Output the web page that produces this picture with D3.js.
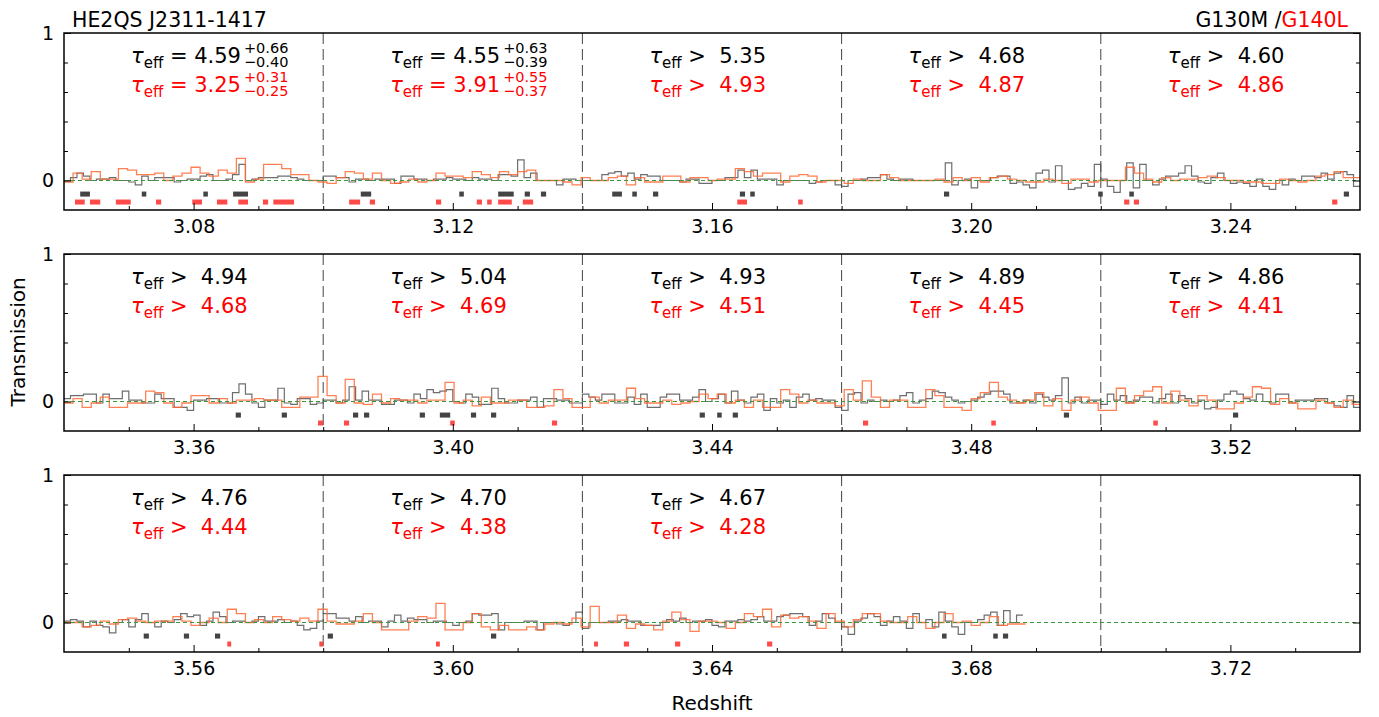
<!DOCTYPE html>
<html><head><meta charset="utf-8">
<script src="https://cdn.jsdelivr.net/npm/d3@7"></script>
<style>body{margin:0;background:#fff} svg{display:block} text{font-family:"DejaVu Sans",sans-serif}</style>
</head><body><svg id="c" width="1379" height="717"></svg>
<script>
// ---------------- DATA ----------------
const panelStarts = [3.06, 3.34, 3.54];
const panelSpan = 0.2;
const segmentWidth = 0.04;
const g130mBin = 0.001;   // redshift width of a G130M bin
const g140lBin = 0.0014;  // redshift width of a G140L bin

// transmission values in percent (x100)
const g130m_p1 = [0,2,5,3,0,1,1,2,0,0, -1,-3,3,0,2,2,2,-1,0,1, 1,3,4,0,0,1,4,11,0,1, 2,2,2,3,3,2,1,0,0,0,
 3,3,2,2,-1,1,1,0,1,1, 1,-2,3,3,1,1,0,1,1,2, 1,1,0,2,1,1,0,4,4,3, 14,2,5,0,0,0,-3,1,1,0,
 0,0,0,4,5,6,3,5,1,4, 3,3,0,0,0,-1,1,1,-2,-2, 0,0,2,2,7,2,7,1,1,1, -3,0,0,0,0,-2,-1,0,0,-3,
 -4,0,0,1,2,2,4,1,0,1, 1,0,0,0,0,0,12,-3,0,1, -5,0,0,2,3,3,-2,-1,-3,-5, 5,7,-1,10,0,-6,-5,-2,-4,11,
 1,-4,-8,0,12,-5,11,0,-3,1, 3,3,5,10,3,-1,-2,2,5,0, -2,-1,-2,-4,1,-4,-6,0,-3,1, 0,3,3,2,5,1,5,6,4,-4];
const g140l_p1 = [-1,5,1,6,1,1,8,7,4,4, 5,0,3,5,9,5,3,7,5,15, -1,1,11,11,8,4,4,0,-1,-2, 2,6,5,1,5,0,-2,-1,1,-1,
 0,5,3,3,2,6,4,2,6,4, 6,7,0,0,0,-1,-3,2,0,0, 2,3,-3,2,-1,-1,3,3,-1,2, 2,0,1,1,8,6,3,5,5,-1,
 3,4,3,-1,0,0,-2,1,0,0, 4,2,0,0,0,0,1,-1,2,0, 2,-1,2,3,1,0,-1,-1,1,0, -2,1,1,-1,0,0,0,9,5,1,
 -1,2,0,1,1,2,3,2,0,0, -1,-1,-2,-2,1,0,-1,0,3,4, 6,2,2];
const g130m_p2 = [2,4,4,5,5,-1,5,2,2,7, 1,1,-1,-1,5,2,2,-4,-4,-6, 1,1,2,2,-1,-1,6,12,5,-1, -4,1,1,9,-1,-2,2,2,-2,-1,
 1,1,-1,1,10,1,7,1,1,-2, -2,1,1,-1,5,2,8,6,7,8, 0,-1,5,3,-2,-2,9,2,-1,-1, 1,1,3,-4,2,2,1,1,-1,-1,
 5,3,1,5,5,-1,-1,3,-2,5, -4,-4,3,5,5,1,1,3,8,0, 2,5,-1,7,1,-1,3,5,-6,2, -1,1,-4,3,5,1,2,1,1,-4,
 -6,5,6,-1,1,0,1,0,1,4, 6,-1,1,2,7,6,3,1,-1,0, 1,3,5,7,7,5,-1,-1,1,-1, 5,3,1,4,16,-1,3,-1,1,1,
 -2,5,1,4,-1,1,3,3,-1,2, 5,-1,4,2,-1,1,-5,-4,1,5, 7,5,2,1,5,0,-1,5,5,-1, 1,1,1,2,2,-1,-3,-4,4,-4];
const g140l_p2 = [-1,2,-4,-1,3,-4,-4,-1,-1,7, 6,-1,-4,-1,4,4,-1,2,-1,1, 1,2,1,1,-4,-4,3,3,17,4, -1,15,-1,-2,5,-1,2,1,1,-1,
 1,1,13,-1,1,-3,3,-1,-1,1, 1,-4,-4,-3,8,2,-4,-4,3,-1, 1,1,9,2,-1,-1,1,-2,-1,0, 5,2,5,-1,1,-4,1,-4,-4,8,
 5,-1,1,-1,-1,-3,8,1,14,3, -4,1,1,-4,-4,8,4,-4,-4,-6, 2,6,13,3,1,-1,1,6,-3,2, -6,1,3,-1,-6,-6,9,-1,4,7,
 10,-1,7,1,-3,4,1,-5,-5,-1, 3,10,9,-2,2,-1,-5,-5,1,-1, -4,1,-2];
const g130m_p3 = [1,2,1,-3,1,-2,-3,-7,0,2, -3,2,6,0,-3,1,0,2,6,4, 5,-2,1,7,4,0,1,1,0,1, 4,1,1,2,0,1,-2,-5,-4,1,
 6,6,3,3,1,4,0,1,1,-3, 1,5,1,3,2,2,0,1,1,0, -2,0,1,6,5,5,6,-5,0,0, 0,1,1,-5,0,0,-1,-2,0,7,
 -4,0,0,0,1,1,2,1,1,-2, -2,-2,0,2,1,3,0,1,1,2, -2,-3,1,1,2,1,2,4,1,1, 4,5,6,6,4,-2,1,6,3,0,
 -3,-8,1,3,6,4,-2,1,4,1, -4,6,0,2,-3,7,1,-3,-8,0, 0,2,5,7,-2,8,0,5];
const g140l_p3 = [0,0,-3,-2,1,-1,2,3,1,0, 1,1,4,1,-2,0,3,0,9,6, 0,2,0,4,2,1,3,1,9,1, -1,-1,1,6,0,-5,-5,-5,1,4,
 3,13,-5,-5,0,6,-3,-5,-2,-5, -5,-3,-5,-1,0,-1,3,-3,11,0, 0,5,-4,-1,-2,-5,1,7,2,-6, 1,1,0,-4,0,6,4,9,-3,5,
 3,4,1,-4,6,1,-3,2,6,6, 1,0,0,4,0,-4,0,6,0,1, -2,0,4,-2,-1,-1];
const g130mPanels = [g130m_p1, g130m_p2, g130m_p3];
const g140lPanels = [g140l_p1, g140l_p2, g140l_p3];

// flagged pixel ranges (redshift)
const g130mFlags = [[3.0625,3.0640],[3.0720,3.0727],[3.0815,3.0822],[3.0861,3.0884],[3.1058,3.1074],[3.1210,3.1217],
 [3.1270,3.1294],[3.1311,3.1319],[3.1336,3.1344],[3.1446,3.1461],[3.1477,3.1484],[3.1509,3.1517],[3.1643,3.1651],
 [3.1659,3.1666],[3.1958,3.1966],[3.2196,3.2203],[3.2244,3.2251],[3.2575,3.2583],
 [3.3665,3.3673],[3.3736,3.3744],[3.3846,3.3854],[3.3863,3.3871],[3.3949,3.3957],[3.3980,3.3996],[3.4028,3.4036],
 [3.4059,3.4067],[3.4381,3.4389],[3.4408,3.4415],[3.4432,3.4440],[3.4943,3.4951],[3.5204,3.5212],
 [3.5523,3.5531],[3.5585,3.5593],[3.5633,3.5641],[3.5807,3.5815],[3.6059,3.6067],[3.6755,3.6762],[3.6834,3.6841],[3.6849,3.6857]];
const g140lFlags = [[3.0617,3.0632],[3.0640,3.0656],[3.0680,3.0703],[3.0742,3.0750],[3.0798,3.0813],[3.0836,3.0852],
 [3.0869,3.0884],[3.0907,3.0915],[3.0923,3.0955],[3.1040,3.1057],[3.1072,3.1080],[3.1174,3.1182],[3.1237,3.1245],
 [3.1253,3.1260],[3.1270,3.1291],[3.1308,3.1324],[3.1639,3.1654],[3.1733,3.1740],[3.2236,3.2244],[3.2251,3.2259],[3.2557,3.2565],
 [3.3792,3.3800],[3.3832,3.3840],[3.3996,3.4003],[3.4153,3.4161],[3.4633,3.4641],[3.4831,3.4838],[3.5081,3.5088],
 [3.5652,3.5658],[3.5794,3.5800],[3.5974,3.5980],[3.6218,3.6224],[3.6264,3.6272],[3.6343,3.6351],[3.6485,3.6493]];

// tau_eff annotations, one per redshift segment (5 per panel)
const tauG130MRel = ["=","=",">",">",">", ">",">",">",">",">", ">",">",">"];
const tauG130M    = ["4.59","4.55","5.35","4.68","4.60", "4.94","5.04","4.93","4.89","4.86", "4.76","4.70","4.67"];
const tauG130MUp  = ["+0.66","+0.63"];
const tauG130MLo  = ["\u22120.40","\u22120.39"];
const tauG140LRel = ["=","=",">",">",">", ">",">",">",">",">", ">",">",">"];
const tauG140L    = ["3.25","3.91","4.93","4.87","4.86", "4.68","4.69","4.51","4.45","4.41", "4.44","4.38","4.28"];
const tauG140LUp  = ["+0.31","+0.55"];
const tauG140LLo  = ["\u22120.25","\u22120.37"];

const xTickLabels = [["3.08","3.12","3.16","3.20","3.24"],["3.36","3.40","3.44","3.48","3.52"],["3.56","3.60","3.64","3.68","3.72"]];
const yTickLabels = ["0","1"];

// ---------------- DRAW ----------------
const svg = d3.select("#c");
const L = 64, R = 1360, H = 177, tops = [33, 254, 475];
const colG = "#4a4a4a", colO = "#ff6a35", red = "#ff0000";

function tauLabel(g, x0, yb, rel, val, up, lo, color) {
  const t = g.append("text").attr("x", x0).attr("y", yb).attr("fill", color)
    .attr("xml:space", "preserve").style("white-space", "pre").style("font-size", "21px");
  t.append("tspan").text("\u03c4").style("font-style", "italic");
  t.append("tspan").text("eff").style("font-size", "15px").attr("dy", 5);
  t.append("tspan").attr("dy", -5).text(rel === "=" ? " = " + val : " >  " + val);
  if (up) {
    const w = t.node().getComputedTextLength();
    g.append("text").attr("x", x0 + w + 3).attr("y", yb - 10).attr("fill", color).style("font-size", "14.5px").text(up);
    g.append("text").attr("x", x0 + w + 3).attr("y", yb + 4).attr("fill", color).style("font-size", "14.5px").text(lo);
  }
}

panelStarts.forEach((z0, p) => {
  const top = tops[p];
  const x = d3.scaleLinear().domain([z0, z0 + panelSpan]).range([L, R]);
  const y = d3.scaleLinear().domain([-0.2, 1]).range([top + H, top]);
  const g = svg.append("g");
  const cid = "clip" + p;
  svg.append("clipPath").attr("id", cid).append("rect").attr("x", L).attr("y", top).attr("width", R - L).attr("height", H);
  const gc = g.append("g").attr("clip-path", "url(#" + cid + ")");

  // segment separators
  d3.range(1, 5).forEach(s => {
    const zz = z0 + segmentWidth * s;
    gc.append("line").attr("x1", x(zz)).attr("x2", x(zz)).attr("y1", y(1)).attr("y2", y(-0.2))
      .attr("stroke", "#444").attr("stroke-width", 1).attr("stroke-dasharray", "11,5");
  });

  // flags
  const inP = d => d[1] > z0 && d[0] < z0 + panelSpan;
  gc.selectAll(".fb").data(g130mFlags.filter(inP)).join("rect")
    .attr("x", d => x(d[0])).attr("width", d => x(d[1]) - x(d[0]))
    .attr("y", y(-0.075)).attr("height", y(-0.109) - y(-0.075)).attr("fill", "#444");
  gc.selectAll(".fr").data(g140lFlags.filter(inP)).join("rect")
    .attr("x", d => x(d[0])).attr("width", d => x(d[1]) - x(d[0]))
    .attr("y", y(-0.129)).attr("height", y(-0.163) - y(-0.129)).attr("fill", "#ff4a4a");

  // spectra
  const step = d3.line().x(d => x(d[0])).y(d => y(d[1])).curve(d3.curveStepAfter);
  const pts = (arr, w) => { const a = arr.map((v, i) => [z0 + i * w, v / 100]); a.push([z0 + arr.length * w, arr[arr.length - 1] / 100]); return a; };
  gc.append("path").attr("d", step(pts(g130mPanels[p], g130mBin))).attr("fill", "none")
    .attr("stroke", colG).attr("stroke-opacity", 0.8).attr("stroke-width", 1.2);
  gc.append("path").attr("d", step(pts(g140lPanels[p], g140lBin))).attr("fill", "none")
    .attr("stroke", colO).attr("stroke-opacity", 0.85).attr("stroke-width", 1.3);

  // zero line
  gc.append("line").attr("x1", L).attr("x2", R).attr("y1", y(0)).attr("y2", y(0))
    .attr("stroke", "#3a9a3a").attr("stroke-width", 1.2).attr("stroke-dasharray", "4,3");

  // axes
  const majorX = xTickLabels[p].map(Number);
  const minorX = d3.range(1, 20).map(k => +(z0 + k * 0.01).toFixed(2)).filter(v => !majorX.some(m => Math.abs(m - v) < 1e-6));
  const ax1 = g.append("g").attr("transform", `translate(0,${y(-0.2)})`)
    .call(d3.axisBottom(x).tickValues(minorX).tickSize(-4).tickFormat(""));
  const ax2 = g.append("g").attr("transform", `translate(0,${y(-0.2)})`)
    .call(d3.axisBottom(x).tickValues(majorX).tickSize(-7).tickPadding(10).tickFormat((d, i) => xTickLabels[p][i]));
  const ay1 = g.append("g").attr("transform", `translate(${L},0)`)
    .call(d3.axisLeft(y).tickValues([0.2, 0.4, 0.6, 0.8]).tickSize(-4).tickFormat(""));
  const ay2 = g.append("g").attr("transform", `translate(${L},0)`)
    .call(d3.axisLeft(y).tickValues([0, 1]).tickSize(-7).tickPadding(10).tickFormat((d, i) => yTickLabels[i]));
  const ay3 = g.append("g").attr("transform", `translate(${R},0)`)
    .call(d3.axisRight(y).tickValues([0.2, 0.4, 0.6, 0.8]).tickSize(-4).tickFormat(""));
  const ay4 = g.append("g").attr("transform", `translate(${R},0)`)
    .call(d3.axisRight(y).tickValues([0, 1]).tickSize(-7).tickFormat(""));
  [ax1, ax2, ay1, ay2, ay3, ay4].forEach(a => {
    a.select(".domain").remove();
    a.selectAll("line").attr("stroke", "#000").attr("stroke-width", 1);
    a.selectAll("text").attr("fill", "#000").style("font-size", "19px").style("font-family", "DejaVu Sans");
  });

  // frame
  g.append("rect").attr("x", L).attr("y", top).attr("width", R - L).attr("height", H)
    .attr("fill", "none").attr("stroke", "#000").attr("stroke-width", 1.5);

  // annotations
  for (let s = 0; s < 5; s++) {
    const k = p * 5 + s;
    if (k >= tauG130M.length) break;
    const xs = x(z0 + segmentWidth * s) + 67;
    tauLabel(g, xs, top + 30, tauG130MRel[k], tauG130M[k], tauG130MUp[k], tauG130MLo[k], "#000");
    tauLabel(g, xs, top + 59, tauG140LRel[k], tauG140L[k], tauG140LUp[k], tauG140LLo[k], red);
  }
});

// titles
svg.append("text").attr("x", 72).attr("y", 27).style("font-size", "20.5px").text("HE2QS J2311-1417");
const gt = svg.append("text").attr("x", 1348).attr("y", 27).attr("text-anchor", "end").style("font-size", "20.5px")
  .attr("xml:space", "preserve").style("white-space", "pre");
gt.append("tspan").attr("fill", "#000").text("G130M /");
gt.append("tspan").attr("fill", red).text("G140L");
svg.append("text").attr("transform", "translate(25,342) rotate(-90)").attr("text-anchor", "middle")
  .style("font-size", "20px").text("Transmission");
svg.append("text").attr("x", 712).attr("y", 710).attr("text-anchor", "middle").style("font-size", "20px").text("Redshift");
</script></body></html>
